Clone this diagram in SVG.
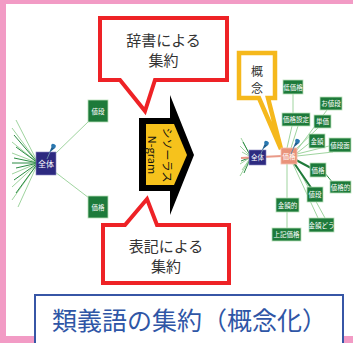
<svg xmlns="http://www.w3.org/2000/svg" width="353" height="343" viewBox="0 0 353 343">
<defs>
<style>
.jp{font-family:"Noto Sans CJK JP","Noto Sans",sans-serif;}
.call{fill:#ffffff;stroke:#ee2226;stroke-width:4;stroke-linejoin:miter;}
.ct{font-size:15px;fill:#333333;text-anchor:middle;}
.g{fill:#1d7a3a;stroke:#b9e0b9;stroke-width:0.8;}
.gt{font-size:6.5px;fill:#ffffff;text-anchor:middle;}
.nv{fill:#2d2a80;stroke:#8a88c0;stroke-width:0.6;}
.nt{font-size:8px;fill:#ffffff;text-anchor:middle;}
.ll{stroke:#9fd49f;stroke-width:1;fill:none;}
.dl{stroke:#2a8a42;stroke-width:1;fill:none;}
.dk{stroke:#1f7a3a;stroke-width:2;fill:none;}
</style>
<g id="pin">
<path d="M0,0 L-3,7" stroke="#6a8aa8" stroke-width="1"/>
<path d="M-1,1 L2,-6 L5,-4 Z" fill="#1f5f8f"/>
<ellipse cx="3.5" cy="-6" rx="2.5" ry="2" fill="#2a78b0" transform="rotate(30 3.5 -6)"/>
</g>
</defs>
<rect x="0" y="0" width="353" height="343" fill="#f29bc5"/>
<rect x="6" y="4" width="347" height="330" fill="#ffffff"/>
<rect x="6" y="300" width="347" height="36" fill="#ffffff"/>
<rect x="345" y="337" width="8" height="6" fill="#f29bc5"/>

<g id="connectors">
<path class="ll" d="M38,163 L12,128 M38,163 L12,142 M38,163 L12,153 M38,163 L12,174 M38,163 L12,187 M38,163 L12,200 M38,163 L18,207 M38,163 L16,120"/>
<path class="dl" d="M38,163 L14,135 M38,163 L16,147 M38,163 L14,158 M38,163 L12,163 M38,163 L16,168 M38,163 L14,180 M38,163 L16,193"/>
<path class="ll" d="M55,154 L89,121 M55,172 L89,198"/>
<path class="ll" d="M251,157 L241,138 M251,157 L240,146 M251,157 L242,152 M251,157 L240,164 M251,157 L242,170 M251,157 L240,176"/>
<path class="dl" d="M251,157 L243,142 M251,157 L241,161 M251,157 L244,173"/>
<path d="M241,158 L282,156" stroke="#e99a88" stroke-width="2" fill="none"/>
<path class="ll" d="M293,93 L293,113 M287,148 L292,126 M291,148 L298,126 M295,150 L318,128 M297,150 L327,110 M297,153 L312,141 M297,154 L333,145 M297,156 L333,152 M287,164 L287,198 M287,212 L287,228 M293,164 L318,218 M295,163 L325,218"/>
<path class="dk" d="M296,160 L311,168 M294,163 L312,189"/>
<path class="dl" d="M324,172 L333,183"/>
</g>

<g id="title-box">
<rect x="35" y="295" width="308" height="52" fill="#ffffff" stroke="#3756a6" stroke-width="2"/>
<text class="jp" x="52" y="330" font-size="25" fill="#2f56a6">類義語の集約（概念化）</text>
</g>

<g id="callout-dict">
<path class="call" d="M100,18 L227,18 L227,80 L155,80 L145,111 L120,80 L100,80 Z"/>
<text class="jp ct" x="163.5" y="46">辞書による</text>
<text class="jp ct" x="163.5" y="66">集約</text>
</g>

<g id="callout-notation">
<path class="call" d="M103,225 L125,225 L147,199 L157,225 L229,225 L229,283 L103,283 Z"/>
<text class="jp ct" x="166" y="252">表記による</text>
<text class="jp ct" x="166" y="272">集約</text>
</g>

<g id="arrow">
<polygon points="139,118 170,118 170,95 194,155 170,215 170,191 139,191" fill="#000000"/>
<polygon points="146,124 174,124 187,155 174,185 146,185" fill="#f6c21c"/>
<g transform="translate(160,155) rotate(90)">
<text class="jp" x="0" y="-3" font-size="11" fill="#111111" text-anchor="middle">シソーラス</text>
<text class="jp" x="0" y="12" font-size="11" fill="#111111" text-anchor="middle">N-gram</text>
</g>
</g>

<g id="callout-concept">
<path d="M239,53 L275,53 L275,98 L268,98 L281,149 L259,98 L239,98 Z" fill="#ffffff" stroke="#f5b81c" stroke-width="4.5" stroke-linejoin="miter"/>
<text class="jp" x="257" y="76" font-size="12" fill="#333333" text-anchor="middle">概</text>
<text class="jp" x="257" y="93" font-size="12" fill="#333333" text-anchor="middle">念</text>
</g>

<g id="left-zentai">
<rect class="nv" x="36" y="152" width="20" height="23"/>
<text class="jp nt" x="46" y="167">全体</text>
<use href="#pin" x="50" y="152"/>
</g>
<g id="left-nedan"><rect class="g" x="88" y="100" width="20" height="22"/><text class="jp gt" x="98" y="113.5" font-size="7">値段</text></g>
<g id="left-kakaku"><rect class="g" x="88" y="196" width="20" height="22"/><text class="jp gt" x="98" y="209.5">価格</text></g>

<g id="r-zentai">
<rect class="nv" x="249" y="150" width="17" height="15"/>
<text class="jp gt" x="257.5" y="160">全体</text>
<use href="#pin" x="263" y="149"/>
</g>
<g id="r-kakaku">
<rect x="281" y="148" width="16" height="16" fill="#e9937a" stroke="#f4c0b0" stroke-width="0.8"/>
<text class="jp gt" x="289" y="158.5">価格</text>
<use href="#pin" x="294" y="147"/>
</g>
<g id="r-teikakaku"><rect class="g" x="283" y="80" width="20" height="14"/><text class="jp gt" x="293" y="89.5">低価格</text></g>
<g id="r-onedan"><rect class="g" x="320" y="97" width="22" height="13"/><text class="jp gt" x="331" y="106">お値段</text></g>
<g id="r-kakakusettei"><rect class="g" x="282" y="113" width="28" height="13"/><text class="jp gt" x="296" y="122">価格設定</text></g>
<g id="r-tanka"><rect class="g" x="314" y="115" width="17" height="13"/><text class="jp gt" x="322.5" y="124">単価</text></g>
<g id="r-kingaku"><rect class="g" x="309" y="134" width="16" height="14"/><text class="jp gt" x="317" y="143.5">金額</text></g>
<g id="r-nedanmen"><rect class="g" x="329" y="138" width="22" height="14"/><text class="jp gt" x="340" y="147.5">値段面</text></g>
<g id="r-kakaku2"><rect class="g" x="310" y="163" width="16" height="14"/><text class="jp gt" x="318" y="172.5">価格</text></g>
<g id="r-nekakuteki"><rect class="g" x="330" y="181" width="21" height="12"/><text class="jp gt" x="340.5" y="189.5">値格的</text></g>
<g id="r-nedan"><rect class="g" x="307" y="187" width="16" height="15"/><text class="jp gt" x="315" y="197">値段</text></g>
<g id="r-kingakuteki"><rect class="g" x="276" y="198" width="23" height="14"/><text class="jp gt" x="287.5" y="207.5">金額的</text></g>
<g id="r-kingakudou"><rect class="g" x="309" y="218" width="25" height="14"/><text class="jp gt" x="321.5" y="227.5">金額どう</text></g>
<g id="r-jokikakaku"><rect class="g" x="272" y="228" width="29" height="13"/><text class="jp gt" x="286.5" y="237">上記価格</text></g>
</svg>
